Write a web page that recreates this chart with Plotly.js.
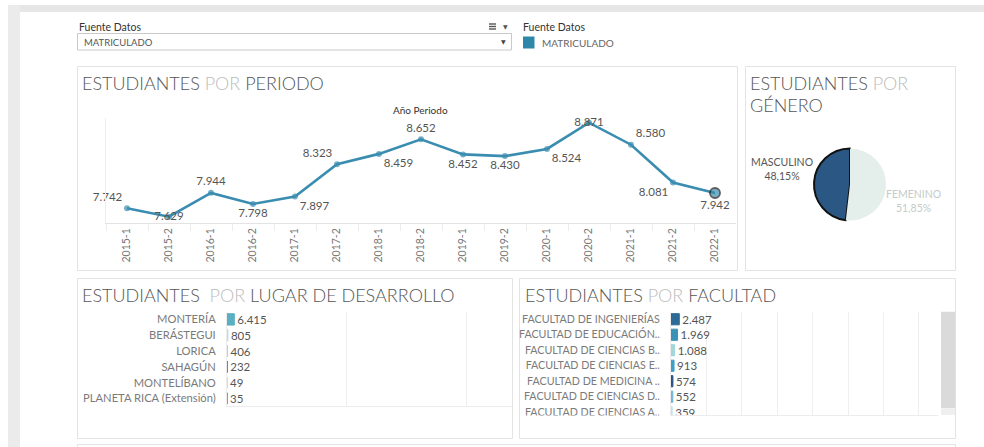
<!DOCTYPE html>
<html><head><meta charset="utf-8">
<script src="https://cdn.plot.ly/plotly-3.0.1.min.js"></script>
<style>html,body{margin:0;padding:0;background:#fff;overflow:hidden}#chart{width:984px;height:447px}</style>
</head><body><div id="chart"></div>
<script>
// ---------- DATA ----------
const periodos = ['2015-1','2015-2','2016-1','2016-2','2017-1','2017-2','2018-1','2018-2','2019-1','2019-2','2020-1','2020-2','2021-1','2021-2','2022-1'];
const estudiantesPeriodo = [7742,7629,7944,7798,7897,8323,8459,8652,8452,8430,8524,8871,8580,8081,7942];

const generos = ['MASCULINO','FEMENINO'];
const estudiantesGenero = [3824,4118];

const lugares = ['MONTERÍA','BERÁSTEGUI','LORICA','SAHAGÚN','MONTELÍBANO','PLANETA RICA (Extensión)'];
const estudiantesLugar = [6415,805,406,232,49,35];

const facultades = ['FACULTAD DE INGENIERÍAS','FACULTAD DE EDUCACIÓN..','FACULTAD DE CIENCIAS B..','FACULTAD DE CIENCIAS E..','FACULTAD DE MEDICINA ..','FACULTAD DE CIENCIAS D..','FACULTAD DE CIENCIAS A..'];
const estudiantesFacultad = [2487,1969,1088,913,574,552,359];

// ---------- STYLE ----------
const FONT = 'Lato, "Open Sans", sans-serif';
const X = p => p/984;
const Y = p => 1 - p/447;
const lineColor = '#3a8db0';
const labelPos = ['top left','middle center','top center','bottom center','bottom right','top left','bottom right','top center','bottom center','bottom center','bottom right','middle center','top right','bottom left','bottom center'];
const lugarColors = ['#5aafc2','#b3e0e2','#a6d7de','#4a7fb2','#a9dde4','#4e88ba'];
const facColors = ['#2d6a96','#3a93b6','#a2d6d8','#3c9fc5','#2b5283','#70b7d1','#bfe4e8'];
const genColors = ['#2a5783','#e4eeea'];

const nP = estudiantesPeriodo.length;
const sizes = estudiantesPeriodo.map((v,i)=> i===nP-1 ? 10 : 6);
const lwidths = estudiantesPeriodo.map((v,i)=> i===nP-1 ? 1.8 : 0);

const tot = estudiantesGenero.reduce((a,b)=>a+b,0);
const pct = v => (100*v/tot).toFixed(2).replace('.',',') + '%';

const traces = [
  {
    type:'scatter', mode:'lines+markers+text', x:periodos, y:estudiantesPeriodo,
    xaxis:'x', yaxis:'y',
    line:{color:lineColor, width:2.6},
    marker:{color:lineColor, size:sizes, line:{color:'#1b1b1b', width:lwidths}},
    texttemplate:'%{y:,}', textposition:labelPos,
    textfont:{family:FONT, size:11.5, color:'#555'},
    cliponaxis:false, hoverinfo:'skip'
  },
  {
    type:'pie', labels:generos, values:estudiantesGenero, sort:false,
    direction:'clockwise', rotation:-360*estudiantesGenero[0]/tot,
    domain:{x:[X(814),X(886)], y:[Y(220.5),Y(148.5)]},
    marker:{colors:genColors, line:{color:['#111','#e4eeea'], width:[2,0]}},
    textinfo:'none', hoverinfo:'skip', showlegend:false
  },
  {
    type:'bar', orientation:'h', y:lugares, x:estudiantesLugar, xaxis:'x2', yaxis:'y2',
    width:0.72,
    marker:{color:lugarColors, line:{color:lugarColors, width:1}},
    texttemplate:'%{x:,}', textposition:'outside', constraintext:'none',
    textfont:{family:FONT, size:11.5, color:'#555'}, hoverinfo:'skip'
  },
  {
    type:'bar', orientation:'h', y:facultades, x:estudiantesFacultad, xaxis:'x3', yaxis:'y3',
    width:0.72,
    marker:{color:facColors, line:{color:facColors, width:1}},
    texttemplate:'%{x:,}', textposition:'outside', constraintext:'none', cliponaxis:true,
    textfont:{family:FONT, size:11.5, color:'#555'}, hoverinfo:'skip'
  }
];

const ann = (x,y,text,opt={}) => Object.assign({
  xref:'paper', yref:'paper', x:X(x), y:Y(y), text:text, showarrow:false,
  xanchor:'left', yanchor:'middle', font:{family:FONT, size:10, color:'#555'}
}, opt);

const titleFont = {family:FONT, size:18, color:'#555', weight:300};
const por = '<span style="color:#bcbcbc">POR</span>';

const annotations = [
  ann(77,27,'Fuente Datos',{font:{family:FONT,size:10.5,color:'#333'}}),
  ann(82,42.5,'MATRICULADO',{font:{family:FONT,size:9.5,color:'#555'}}),
  ann(503,42,'▼',{xanchor:'center',font:{family:'DejaVu Sans',size:6,color:'#444'}}),
  ann(505,26.5,'▼',{xanchor:'center',font:{family:'DejaVu Sans',size:6,color:'#555'}}),
  ann(520.5,27,'Fuente Datos',{font:{family:FONT,size:10.5,color:'#333'}}),
  ann(540,42.5,'MATRICULADO',{font:{family:FONT,size:10,color:'#666'}}),
  ann(80,83,'ESTUDIANTES '+por+' PERIODO',{font:titleFont}),
  ann(748,83,'ESTUDIANTES '+por,{font:titleFont}),
  ann(748,105,'GÉNERO',{font:titleFont}),
  ann(80,295,'ESTUDIANTES  '+por+' LUGAR DE DESARROLLO',{font:titleFont}),
  ann(523,295,'ESTUDIANTES '+por+' FACULTAD',{font:titleFont}),
  ann(420,110,'Año Periodo',{xanchor:'center',font:{family:FONT,size:10,color:'#333'}}),
  ann(782,169,generos[0]+'<br>'+pct(estudiantesGenero[0]),{xanchor:'center',font:{family:FONT,size:10.5,color:'#555'}}),
  ann(913,201,generos[1]+'<br>'+pct(estudiantesGenero[1]),{xanchor:'center',font:{family:FONT,size:10.5,color:'#c4cbc8'}})
];

const rect = (x0,y0,x1,y1,fill,line,lw,layer) => ({
  type:'rect', xref:'paper', yref:'paper', x0:X(x0), x1:X(x1), y0:Y(y1), y1:Y(y0),
  fillcolor:fill, line:{color:line||'rgba(0,0,0,0)', width:lw||0}, layer:layer||'below'
});
const seg = (x0,y0,x1,y1,color,w) => ({
  type:'line', xref:'paper', yref:'paper', x0:X(x0), x1:X(x1), y0:Y(y0), y1:Y(y1),
  line:{color:color, width:w}, layer:'above'
});

const shapes = [
  rect(8,5,984,12,'#e6e6e6'),
  rect(8,5,20,447,'#ebebeb'),
  rect(77.5,33.5,511.5,50,'#fff','#c9c9c9',1),
  rect(523,36.5,534.5,48.5,'#2e86a8'),
  seg(489,24,496,24,'#555',1.4), seg(489,26.5,496,26.5,'#555',1.4), seg(489,29,496,29,'#555',1.4),
  rect(77.5,66.5,737.5,270.5,'#fff','#e3e3e3',1),
  rect(745.5,66.5,955.5,270.5,'#fff','#e3e3e3',1),
  rect(77.5,278.5,512.5,438.5,'#fff','#e3e3e3',1),
  rect(519.5,278.5,955.5,438.5,'#fff','#e3e3e3',1),
  rect(77.5,444.5,955.5,470,'#fff','#e3e3e3',1),
  rect(941,311.7,955,408.3,'#dadada',null,0,'above'),
  rect(941,408.3,955,415,'#efefef',null,0,'above'),
  rect(521,415.6,669,437,'#fff',null,0,'above')
];

const layout = {
  width:984, height:447, margin:{l:0,r:0,t:0,b:0},
  paper_bgcolor:'#fff', plot_bgcolor:'rgba(0,0,0,0)',
  separators:',.', showlegend:false,
  font:{family:FONT},
  xaxis:{domain:[X(106),X(736)], type:'category', range:[-0.5,14.5], anchor:'y',
    tickangle:-90, tickfont:{family:FONT,size:10.5,color:'#777'},
    showline:true, linecolor:'#e3e3e3', linewidth:1, showgrid:false, zeroline:false,
    ticks:'outside', tickson:'boundaries', ticklen:7, tickcolor:'#ececec', fixedrange:true},
  yaxis:{domain:[Y(223),Y(118)], range:[7546,8933], anchor:'x',
    showticklabels:false, showgrid:false, zeroline:false, showline:true, linecolor:'#eeeeee', ticks:'', fixedrange:true},
  xaxis2:{domain:[X(227),X(512)], range:[0,250000], dtick:105000, anchor:'y2',
    showticklabels:false, showgrid:true, gridcolor:'#efefef', zeroline:false,
    showline:true, linecolor:'#ececec', ticks:'', fixedrange:true},
  yaxis2:{domain:[Y(406.3),Y(311.5)], type:'category', range:[5.5,-0.5], anchor:'x2',
    tickfont:{family:FONT,size:11.2,color:'#7a7a7a'}, showgrid:false, zeroline:false,
    showline:true, linecolor:'#ececec', ticks:'outside', ticklen:8, tickcolor:'rgba(0,0,0,0)', fixedrange:true},
  xaxis3:{domain:[X(671),X(938)], range:[0,80100], dtick:10620, anchor:'y3',
    showticklabels:false, showgrid:true, gridcolor:'#efefef', zeroline:false,
    showline:true, linecolor:'#ececec', ticks:'', fixedrange:true},
  yaxis3:{domain:[Y(415),Y(311.5)], type:'category', range:[6.18,-0.5], anchor:'x3',
    tickfont:{family:FONT,size:10.7,color:'#7a7a7a'}, showgrid:false, zeroline:false,
    showline:true, linecolor:'#ececec', ticks:'outside', ticklen:8, tickcolor:'rgba(0,0,0,0)', fixedrange:true},
  shapes:shapes, annotations:annotations
};

Plotly.newPlot('chart', traces, layout, {displayModeBar:false, staticPlot:true});
</script></body></html>
